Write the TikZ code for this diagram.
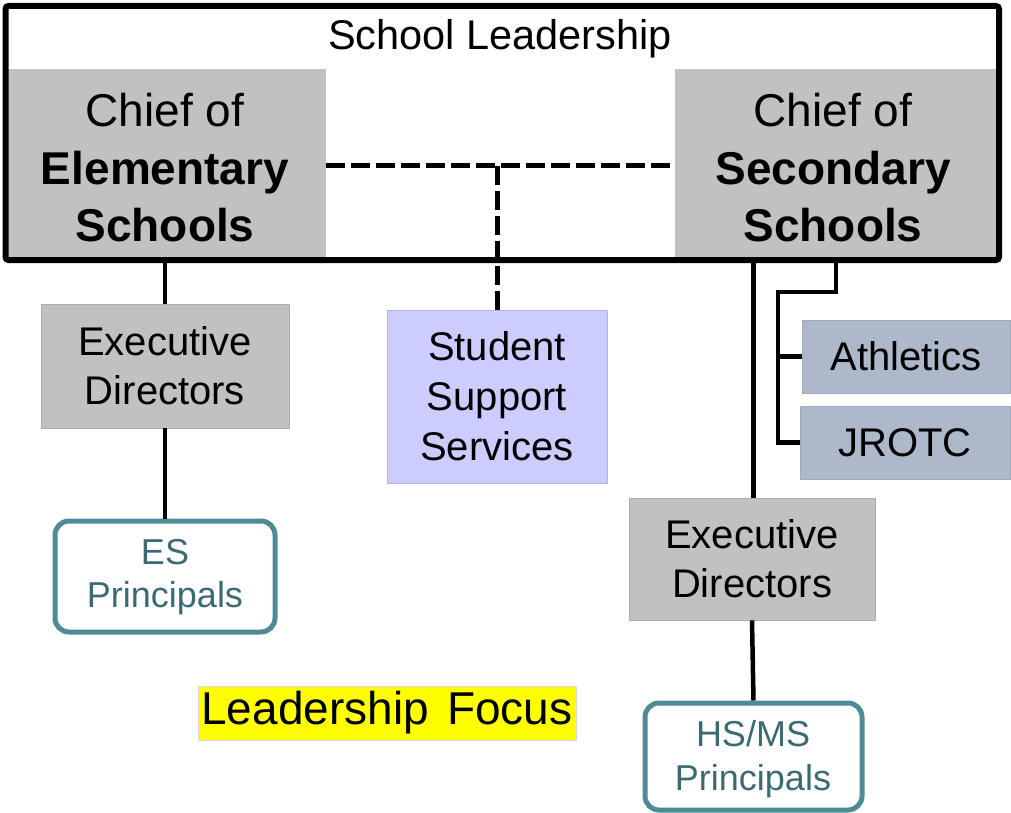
\documentclass[tikz,border=0pt]{standalone}
\usepackage{fontspec}
\setmainfont{Liberation Sans}
\definecolor{boxgray}{RGB}{192,193,195}
\definecolor{boxgrayline}{RGB}{172,172,172}
\definecolor{lav}{RGB}{204,204,255}
\definecolor{lavline}{RGB}{180,180,228}
\definecolor{slate}{RGB}{173,185,202}
\definecolor{slateline}{RGB}{160,170,188}
\definecolor{teal}{RGB}{78,139,148}
\definecolor{tealtext}{RGB}{60,106,114}
\definecolor{hiyellow}{RGB}{255,255,0}
\tikzset{
  graybox/.style={fill=boxgray, draw=boxgrayline, line width=0.8pt, inner sep=0pt, align=center},
  chiefbox/.style={fill=boxgray, inner sep=0pt},
  chieftext/.style={inner sep=0pt, align=center, font=\fontsize{46}{57.5}\selectfont},
  edbox/.style={graybox, font=\fontsize{40}{49}\selectfont},
  sssbox/.style={fill=lav, draw=lavline, line width=0.8pt, inner sep=0pt, align=center, font=\fontsize{40}{50}\selectfont},
  slatebox/.style={fill=slate, draw=slateline, line width=0.8pt, inner sep=0pt, align=center, font=\fontsize{40}{48}\selectfont},
  princbox/.style={draw=teal, fill=white, line width=5pt, rounded corners=14pt, inner sep=0pt},
  princtext/.style={inner sep=0pt, align=center, text=tealtext, font=\fontsize{36}{43.5}\selectfont},
  link/.style={line width=4.5pt, black},
  dashlink/.style={line width=5pt, black, dash pattern=on 19pt off 6pt},
}
\begin{document}
\begin{tikzpicture}[x=1pt,y=-1pt]
\useasboundingbox (0,0) rectangle (1011,813);
% chiefs
\node[chiefbox, minimum width=318pt, minimum height=188pt] (ce) at (167,163) {};
\node[chieftext] (ceT) at (165,168) {Chief of\\\textbf{Elementary}\\\textbf{Schools}};
\node[chiefbox, minimum width=322pt, minimum height=188pt] (cs) at (836,163) {};
\node[chieftext] (csT) at (833,168) {Chief of\\\textbf{Secondary}\\\textbf{Schools}};
% outer leadership frame
\node[draw, line width=6pt, rounded corners=3pt, minimum width=993.5pt, minimum height=254pt, inner sep=0pt] (lead) at (502.25,133) {};
\node[font=\fontsize{41.5}{48}\selectfont, inner sep=0pt] (title) at (500,39) {School Leadership};
% second level
\node[edbox, minimum width=248pt, minimum height=124pt] (edL) at (165,366) {Executive\\Directors};
\node[sssbox, minimum width=220pt, minimum height=173pt] (sss) at (497,396.5) {Student\\Support\\Services};
\node[slatebox, minimum width=208pt, minimum height=73pt] (ath) at (906,356.5) {Athletics};
\node[slatebox, minimum width=210pt, minimum height=73pt] (jr) at (905,442.5) {JROTC};
\node[edbox, minimum width=246pt, minimum height=122pt] (edR) at (752,559) {Executive\\Directors};
% principals
\node[princbox, minimum width=220pt, minimum height=111pt] (esp) at (165,576.5) {};
\node[princtext] (espT) at (165,577) {ES\\Principals};
\node[princbox, minimum width=217pt, minimum height=107pt] (hsp) at (753.5,756.5) {};
\node[princtext] (hspT) at (753,759) {HS/MS\\Principals};
% leadership focus label
\node[fill=hiyellow, draw=black!15, line width=0.6pt, minimum width=378pt, minimum height=54pt, inner sep=0pt, font=\fontsize{46}{50}\selectfont] (focus) at (387,713) {Leadership\hspace{0.4em}Focus};
% dashed connectors
\coordinate (dj) at (497,166);
\draw[dashlink] ([yshift=-3pt]ce.east) -- ([yshift=-3pt]cs.west);
\draw[dashlink] (dj) -- (sss.north);
% solid connectors
\draw[link] (edL.north |- ce.south) -- (edL.north);
\draw[link] (edL.south) -- (esp.north);
\draw[link] ([xshift=1.5pt]edR.north |- cs.south) -- ([xshift=1.5pt]edR.north);
\draw[link] (edR.south) -- (hsp.north);
\coordinate (br) at (778,292);
\draw[link] (cs.south) |- (br) -- (br |- jr.west) -- (jr.west);
\draw[link] (br |- ath.west) -- (ath.west);
\end{tikzpicture}
\end{document}
